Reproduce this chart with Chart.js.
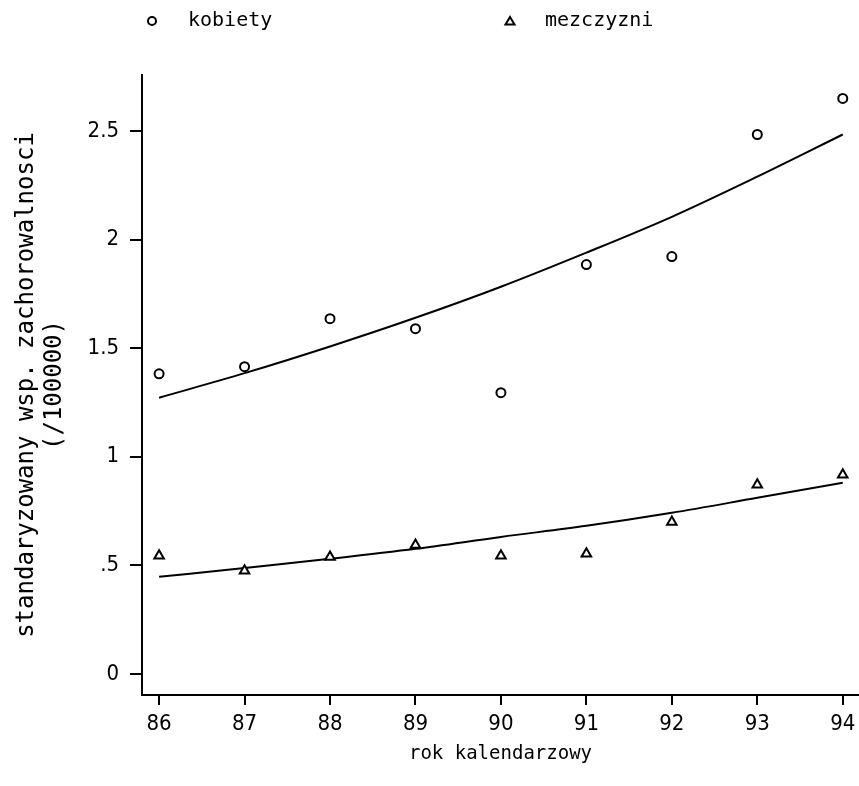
<!DOCTYPE html>
<html>
<head>
<meta charset="utf-8">
<script src="https://cdn.jsdelivr.net/npm/chart.js"></script>
<style>
body { margin: 0; background: #fff; }
#wrap { width: 859px; height: 786px; }
</style>
</head>
<body>
<div id="wrap"><canvas id="incidenceChart"></canvas></div>
<script>
// values (year 19xx, rate per 100000)
var years = [86, 87, 88, 89, 90, 91, 92, 93, 94];
var kobiety = [1.382, 1.415, 1.636, 1.590, 1.295, 1.885, 1.922, 2.484, 2.650];
var mezczyzni = [0.544, 0.475, 0.539, 0.594, 0.544, 0.553, 0.700, 0.871, 0.917];
var kobietyFit = [1.272, 1.385, 1.508, 1.640, 1.783, 1.940, 2.105, 2.290, 2.484];
var mezczyzniFit = [0.447, 0.488, 0.530, 0.576, 0.631, 0.682, 0.742, 0.811, 0.880];
var yTickValues = [0, 0.5, 1, 1.5, 2, 2.5];
var yTickLabels = ['0', '.5', '1', '1.5', '2', '2.5'];

var narrowFont = '"DejaVu Sans Condensed", "DejaVu Sans"';

function pairs(xs, ys) {
  return xs.map(function (x, i) { return {x: x, y: ys[i]}; });
}

// legend row above the plot, only for the marker series
var topLegend = {
  id: 'topLegend',
  afterDraw: function (chart) {
    var ctx = chart.ctx;
    var items = [
      {ds: chart.data.datasets[0], mx: 152, tx: 188},
      {ds: chart.data.datasets[1], mx: 510, tx: 545}
    ];
    ctx.save();
    ctx.strokeStyle = '#000';
    ctx.fillStyle = '#000';
    ctx.lineWidth = 2;
    items.forEach(function (it) {
      var y = 21;
      ctx.beginPath();
      if (it.ds.pointStyle === 'circle') {
        ctx.arc(it.mx, y, 4, 0, Math.PI * 2);
      } else {
        ctx.moveTo(it.mx, y - 4);
        ctx.lineTo(it.mx + 4.5, y + 3.5);
        ctx.lineTo(it.mx - 4.5, y + 3.5);
        ctx.closePath();
      }
      ctx.stroke();
    });
    ctx.font = '20px "DejaVu Sans Mono"';
    ctx.textBaseline = 'middle';
    items.forEach(function (it) {
      ctx.fillText(it.ds.label, it.tx, 21);
    });
    ctx.restore();
  }
};

var ctx = document.getElementById('incidenceChart').getContext('2d');
var incidenceChart = new Chart(ctx, {
  type: 'line',
  data: {
    datasets: [{
      label: 'kobiety',
      data: pairs(years, kobiety),
      showLine: false,
      pointStyle: 'circle',
      pointRadius: 4.5,
      pointBorderWidth: 2,
      pointBorderColor: '#000',
      pointBackgroundColor: '#fff'
    },
    {
      label: 'mezczyzni',
      data: pairs(years, mezczyzni),
      showLine: false,
      pointStyle: 'triangle',
      pointRadius: 5.5,
      pointBorderWidth: 2,
      pointBorderColor: '#000',
      pointBackgroundColor: '#fff'
    },
    {
      label: 'kobiety fit',
      data: pairs(years, kobietyFit),
      borderColor: '#000',
      borderWidth: 2,
      pointRadius: 0,
      fill: false,
      cubicInterpolationMode: 'monotone'
    },
    {
      label: 'mezczyzni fit',
      data: pairs(years, mezczyzniFit),
      borderColor: '#000',
      borderWidth: 2,
      pointRadius: 0,
      fill: false,
      cubicInterpolationMode: 'monotone'
    }
    ]
  },
  options: {
    responsive: true,
    maintainAspectRatio: false,
    animation: false,
    layout: { autoPadding: false, padding: { top: 75, left: 0, right: 0, bottom: 0 } },
    plugins: { legend: { display: false }, tooltip: { enabled: false } },
    scales: {
      x: {
        type: 'linear',
        min: 85.8,
        max: 94.19,
        afterBuildTicks: function (s) { s.ticks = years.map(function (v) { return {value: v}; }); },
        afterFit: function (s) {
          s.height = 91;
          // axis runs to the right edge of the picture
          s.paddingLeft = 0;
          s.paddingRight = 0;
        },
        grid: { drawOnChartArea: false, drawTicks: true, tickLength: 10, lineWidth: 2, color: '#000' },
        border: { display: true, color: '#000', width: 2 },
        ticks: {
          color: '#000',
          font: { family: narrowFont, size: 22, lineHeight: 1 },
          padding: 8,
          maxRotation: 0,
          autoSkip: false,
          callback: function (v) { return String(v); }
        },
        title: {
          display: true,
          text: 'rok kalendarzowy',
          color: '#000',
          font: { family: 'DejaVu Sans Mono', size: 19 },
          padding: { top: 0, bottom: 21 }
        }
      },
      y: {
        type: 'linear',
        min: -0.097,
        max: 2.758,
        afterBuildTicks: function (s) { s.ticks = yTickValues.map(function (v) { return {value: v}; }); },
        afterFit: function (s) { s.width = 142; },
        grid: { drawOnChartArea: false, drawTicks: true, tickLength: 12, lineWidth: 2, color: '#000' },
        border: { display: true, color: '#000', width: 2 },
        ticks: {
          color: '#000',
          font: { family: narrowFont, size: 22 },
          padding: 11,
          callback: function (v) {
            var i = yTickValues.indexOf(v);
            return i >= 0 ? yTickLabels[i] : '';
          }
        },
        title: {
          display: true,
          text: ['standaryzowany wsp. zachorowalnosci', '(/100000)'],
          color: '#000',
          font: { family: 'DejaVu Sans Mono', size: 24, lineHeight: 1.2 },
          padding: { top: 12, bottom: 0 }
        }
      }
    }
  },
  plugins: [topLegend]
});
</script>
</body>
</html>
